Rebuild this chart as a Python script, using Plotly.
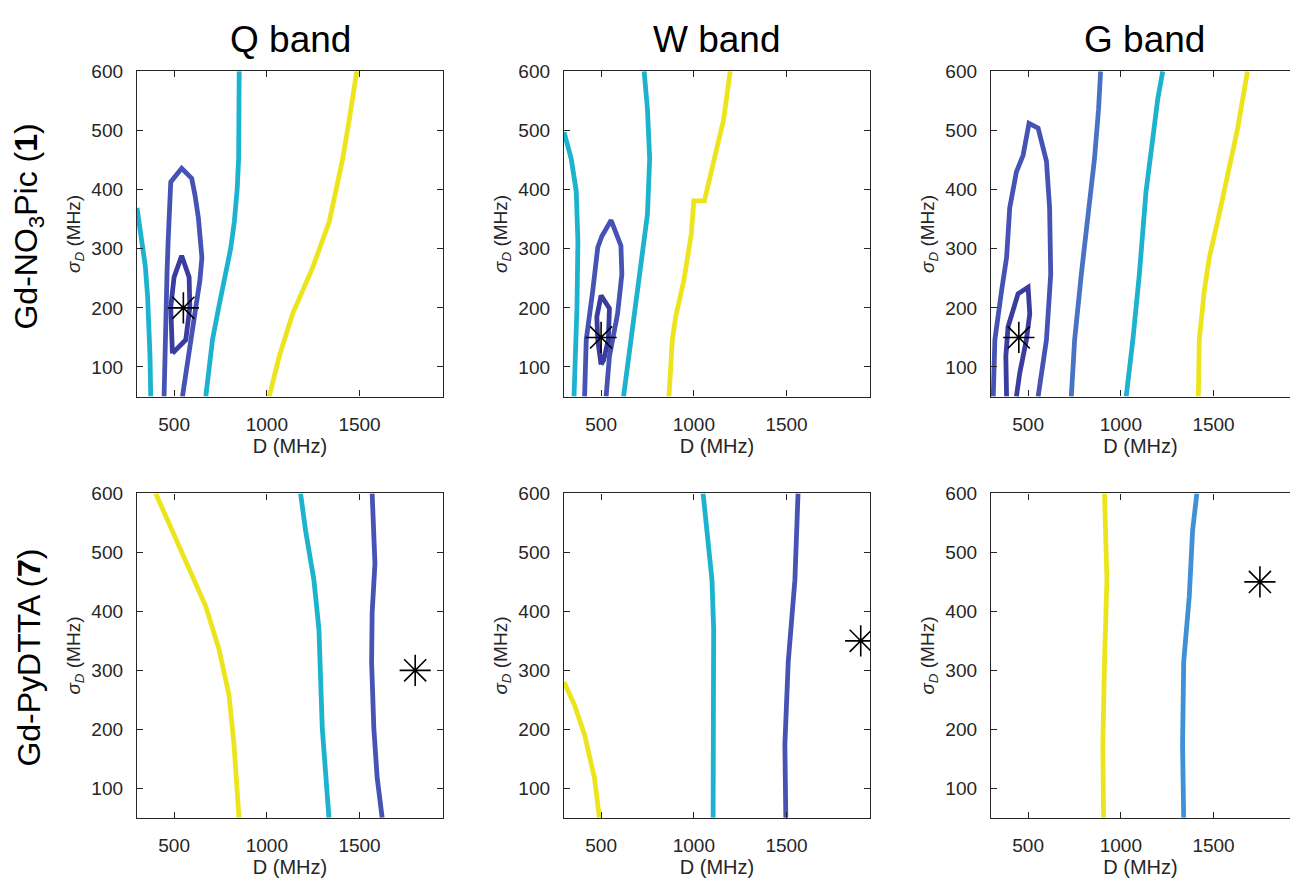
import plotly.graph_objects as go

W, H = 1290, 882

# ---------------- data ----------------
bands = ["Q band", "W band", "G band"]
samples = ["Gd-NO<sub>3</sub>Pic (<b>1</b>)", "Gd-PyDTTA (<b>7</b>)"]
x_ticks = [500, 1000, 1500]
y_ticks = [100, 200, 300, 400, 500, 600]
x_range = [300, 1950]
y_range = [50, 600]

# colours (parula-like contour levels)
C_INNER = "#3b3ca0"
C_OUTER = "#4653b4"
C_BLUE = "#4a72c4"
C_SKY = "#3f90d4"
C_CYAN = "#1db3cf"
C_YELLOW = "#ece51e"

# Panel (row 1, Q band)
q1_cyan_a_D = [300, 315, 330, 345, 357, 365, 370, 374]
q1_cyan_a_S = [369, 340, 310, 270, 220, 170, 120, 50]
q1_outer_D = [446, 450, 455, 462, 468, 476, 482, 541, 595, 613, 631, 650, 639, 617, 590, 563, 545]
q1_outer_S = [50, 118, 201, 260, 313, 370, 413, 436, 419, 390, 352, 285, 246, 201, 146, 90, 50]
q1_inner_D = [491, 482, 500, 541, 581, 585, 563, 527, 491]
q1_inner_S = [123, 201, 252, 288, 252, 201, 146, 135, 123]
q1_cyan_b_D = [671, 707, 740, 779, 805, 825, 840, 848, 851, 851]
q1_cyan_b_S = [50, 146, 200, 257, 300, 346, 400, 452, 500, 600]
q1_yellow_D = [1013, 1067, 1139, 1247, 1337, 1409, 1445, 1485]
q1_yellow_S = [50, 118, 190, 268, 346, 452, 519, 600]
q1_star = (550, 200)

# Panel (row 1, W band)
w1_cyan_a_D = [300, 339, 366, 375, 370, 357, 354]
w1_cyan_a_S = [497, 452, 397, 313, 201, 112, 50]
w1_outer_D = [411, 420, 455, 482, 504, 554, 607, 612, 589, 545, 527]
w1_outer_S = [50, 146, 229, 302, 321, 348, 305, 257, 190, 118, 50]
w1_inner_D = [500, 482, 477, 500, 545, 539, 514, 500]
w1_inner_S = [104, 146, 185, 221, 199, 146, 112, 104]
w1_cyan_b_D = [621, 661, 705, 750, 762, 750, 732]
w1_cyan_b_S = [50, 146, 246, 358, 452, 536, 600]
w1_yellow_D = [866, 884, 902, 946, 986, 1000, 1057, 1107, 1161, 1196]
w1_yellow_S = [50, 146, 185, 246, 324, 381, 381, 447, 519, 600]
w1_star = (500, 150)

# Panel (row 1, G band)
g1_outer_D = [312, 321, 357, 384, 401, 437, 473, 505, 554, 599, 616, 622, 599, 554]
g1_outer_S = [50, 146, 229, 285, 369, 430, 458, 512, 504, 448, 369, 257, 146, 50]
g1_inner_D = [384, 380, 392, 446, 500, 509, 491, 455, 437]
g1_inner_S = [50, 118, 168, 224, 235, 190, 146, 90, 50]
g1_blue_D = [733, 751, 787, 840, 858, 880, 891]
g1_blue_S = [50, 146, 257, 397, 452, 536, 600]
g1_cyan_D = [1029, 1065, 1100, 1136, 1181, 1199, 1226]
g1_cyan_S = [50, 146, 257, 397, 508, 553, 600]
g1_yellow_D = [1418, 1423, 1450, 1477, 1530, 1575, 1629, 1683]
g1_yellow_S = [50, 146, 229, 285, 358, 424, 502, 600]
g1_star = (450, 150)

# Panel (row 2, Q band)
q2_yellow_D = [401, 491, 581, 670, 742, 796, 823, 850]
q2_yellow_S = [600, 537, 470, 409, 336, 258, 174, 50]
q2_cyan_D = [1182, 1209, 1254, 1281, 1299, 1335]
q2_cyan_S = [600, 537, 453, 370, 202, 50]
q2_dark_D = [1568, 1583, 1568, 1565, 1577, 1595, 1622]
q2_dark_S = [600, 481, 398, 314, 202, 118, 50]
q2_star = (1800, 300)

# Panel (row 2, W band)
w2_yellow_D = [300, 357, 411, 464, 491]
w2_yellow_S = [280, 241, 191, 118, 50]
w2_cyan_D = [1050, 1071, 1098, 1107, 1104, 1104]
w2_cyan_S = [600, 537, 453, 370, 202, 50]
w2_dark_D = [1562, 1545, 1509, 1491, 1496]
w2_dark_S = [600, 453, 314, 174, 50]
w2_star = (1900, 350)

# Panel (row 2, G band)
g2_yellow_D = [912, 925, 912, 903, 907]
g2_yellow_S = [600, 453, 314, 174, 50]
g2_blue_D = [1410, 1387, 1369, 1339, 1333, 1339]
g2_blue_S = [600, 537, 425, 314, 174, 50]
g2_star = (1750, 450)

panels = [
    (0, 0, [(q1_cyan_a_D, q1_cyan_a_S, C_CYAN),
            (q1_outer_D, q1_outer_S, C_OUTER),
            (q1_inner_D, q1_inner_S, C_INNER),
            (q1_cyan_b_D, q1_cyan_b_S, C_CYAN),
            (q1_yellow_D, q1_yellow_S, C_YELLOW)], q1_star),
    (0, 1, [(w1_cyan_a_D, w1_cyan_a_S, C_CYAN),
            (w1_outer_D, w1_outer_S, C_OUTER),
            (w1_inner_D, w1_inner_S, C_INNER),
            (w1_cyan_b_D, w1_cyan_b_S, C_CYAN),
            (w1_yellow_D, w1_yellow_S, C_YELLOW)], w1_star),
    (0, 2, [(g1_outer_D, g1_outer_S, C_OUTER),
            (g1_inner_D, g1_inner_S, C_INNER),
            (g1_blue_D, g1_blue_S, C_BLUE),
            (g1_cyan_D, g1_cyan_S, C_CYAN),
            (g1_yellow_D, g1_yellow_S, C_YELLOW)], g1_star),
    (1, 0, [(q2_yellow_D, q2_yellow_S, C_YELLOW),
            (q2_cyan_D, q2_cyan_S, C_CYAN),
            (q2_dark_D, q2_dark_S, C_OUTER)], q2_star),
    (1, 1, [(w2_yellow_D, w2_yellow_S, C_YELLOW),
            (w2_cyan_D, w2_cyan_S, C_CYAN),
            (w2_dark_D, w2_dark_S, C_OUTER)], w2_star),
    (1, 2, [(g2_yellow_D, g2_yellow_S, C_YELLOW),
            (g2_blue_D, g2_blue_S, C_SKY)], g2_star),
]

# ---------------- layout geometry (pixels) ----------------
col_px = [(137, 443), (564, 870), (991, 1290)]
row_px = [(62, 391), (489, 817)]
px_per_mhz = (443 - 137) / (x_range[1] - x_range[0])
LINE_W = 4.8

FONT = "Liberation Sans, Arial, Helvetica, sans-serif"
AX_COL = "#262626"

fig = go.Figure()
layout = dict(
    width=W, height=H,
    margin=dict(l=0, r=0, t=0, b=0),
    paper_bgcolor="white", plot_bgcolor="white",
    showlegend=False,
    font=dict(family=FONT, color=AX_COL),
)
annotations = []

for idx, (r, c, lines, star) in enumerate(panels):
    n = idx + 1
    xa = "xaxis" if n == 1 else f"xaxis{n}"
    ya = "yaxis" if n == 1 else f"yaxis{n}"
    xref = "x" if n == 1 else f"x{n}"
    yref = "y" if n == 1 else f"y{n}"
    x0, x1 = col_px[c]
    y0, y1 = row_px[r]
    if c == 2:
        xr = [x_range[0], x_range[0] + (x1 - x0) / px_per_mhz]
    else:
        xr = x_range
    layout[xa] = dict(
        domain=[x0 / W, x1 / W], anchor=yref, range=xr,
        tickmode="array", tickvals=x_ticks, ticks="inside", ticklen=6,
        tickcolor=AX_COL, tickwidth=1.2,
        showline=True, linecolor=AX_COL, linewidth=1.3, mirror="ticks",
        showgrid=False, zeroline=False,
        tickfont=dict(size=19, color=AX_COL, family=FONT),
        ticklabelstandoff=10,
        title=dict(text="D (MHz)", font=dict(size=20, color=AX_COL, family=FONT), standoff=4),
    )
    layout[ya] = dict(
        domain=[1 - y1 / H, 1 - y0 / H], anchor=xref, range=y_range,
        tickmode="array", tickvals=y_ticks, ticks="inside", ticklen=6,
        tickcolor=AX_COL, tickwidth=1.2,
        showline=True, linecolor=AX_COL, linewidth=1.3,
        mirror=("ticks" if c < 2 else False),
        showgrid=False, zeroline=False,
        tickfont=dict(size=19, color=AX_COL, family=FONT),
        ticklabelstandoff=9,
    )
    for D, S, col in lines:
        fig.add_trace(go.Scatter(x=D, y=S, mode="lines", xaxis=xref, yaxis=yref,
                                 line=dict(color=col, width=LINE_W), hoverinfo="skip"))
    fig.add_trace(go.Scatter(x=[star[0]], y=[star[1]], mode="markers", xaxis=xref, yaxis=yref,
                             marker=dict(symbol="asterisk-open", size=26, color="black",
                                         line=dict(color="black", width=1.6)),
                             hoverinfo="skip"))
    # y axis title
    annotations.append(dict(
        text="<i>σ</i><sub><i>D</i></sub> (MHz)", textangle=-90,
        x=(x0 - 62) / W, y=1 - (y0 + y1) / 2 / H, xref="paper", yref="paper",
        xanchor="center", yanchor="middle", showarrow=False,
        font=dict(size=19, color=AX_COL, family=FONT)))

# column titles
for c, name in enumerate(bands):
    x0, _ = col_px[c]
    cx = x0 + 153
    annotations.append(dict(text=name, x=cx / W, y=1 - 30 / H, xref="paper", yref="paper",
                            xanchor="center", yanchor="middle", showarrow=False,
                            font=dict(size=37, color="black", family=FONT)))

# row labels
row_centers = [219, 655]
for r, name in enumerate(samples):
    annotations.append(dict(text=name, textangle=-90, x=29 / W, y=1 - row_centers[r] / H,
                            xref="paper", yref="paper", xanchor="center", yanchor="middle",
                            showarrow=False, font=dict(size=32, color="black", family=FONT)))

layout["annotations"] = annotations
fig.update_layout(**layout)
fig.write_html("out.html", config={"displayModeBar": False},
               post_script="document.body.style.margin='0px';document.body.style.overflow='hidden';")
